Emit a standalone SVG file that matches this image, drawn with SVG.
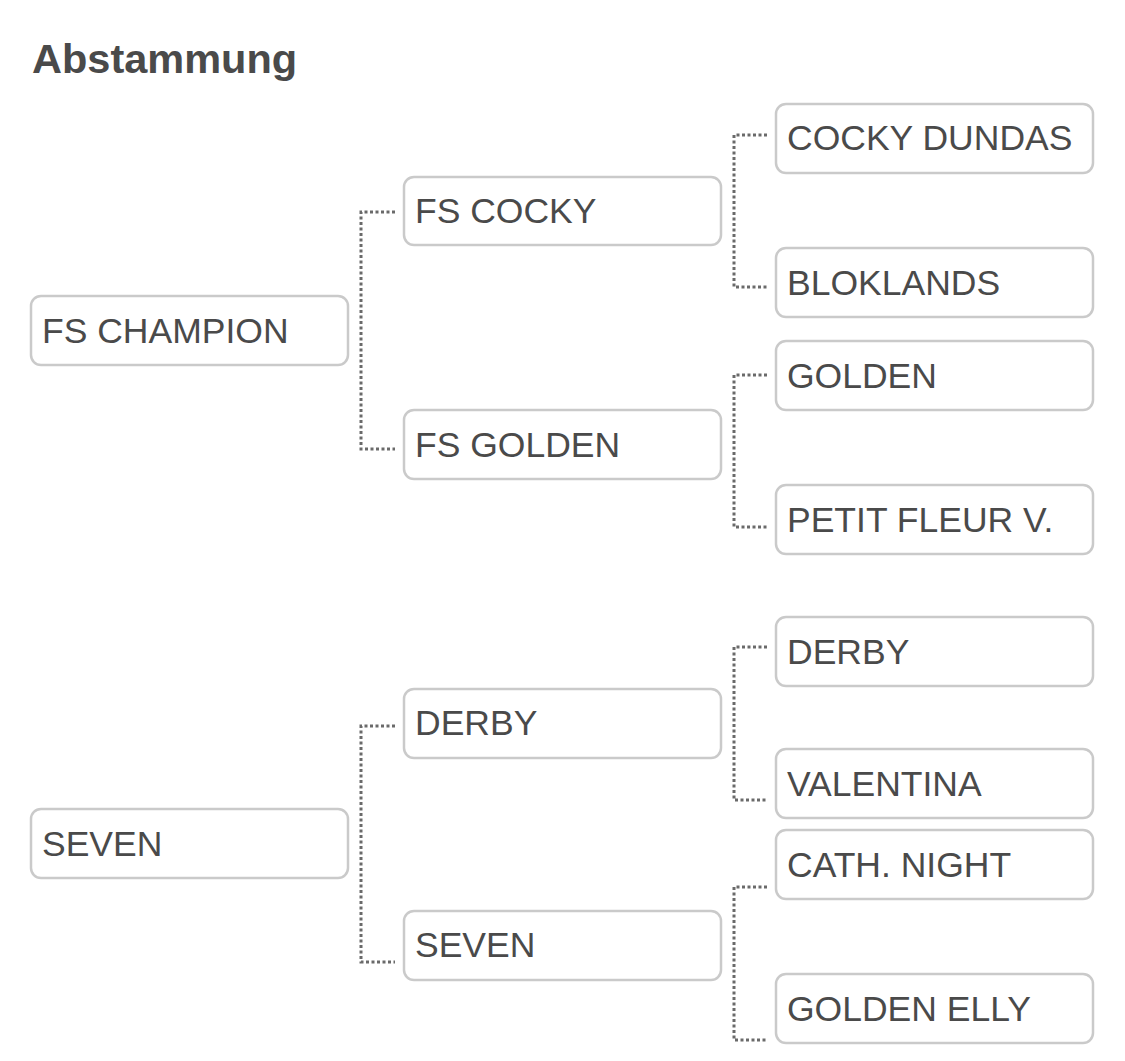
<svg xmlns="http://www.w3.org/2000/svg" width="1125" height="1061" viewBox="0 0 1125 1061">
<style>
.box{fill:#fff;stroke:#cacaca;stroke-width:2.5}
.lbl{font-family:"Liberation Sans",Arial,sans-serif;font-size:35.5px;fill:#4a4a4a}
.title{font-family:"Liberation Sans",Arial,sans-serif;font-size:41.5px;font-weight:bold;fill:#4a4a4a}
.conn{fill:none;stroke:#6a6a6a;stroke-width:3;stroke-dasharray:3 2.5}
</style>
<rect width="1125" height="1061" fill="#fff"/>
<text class="title" x="32" y="73">Abstammung</text>
<g id="connectors">
<path class="conn" d="M395 212 H361 V449 H395"/>
<path class="conn" d="M395 726 H361 V962 H395"/>
<path class="conn" d="M767 135 H734 V287 H767"/>
<path class="conn" d="M767 375 H734 V527 H767"/>
<path class="conn" d="M767 647 H734 V800 H767"/>
<path class="conn" d="M767 887 H734 V1040 H767"/>
</g>
<g id="n-fs-champion"><rect class="box" x="31" y="296" width="317" height="69" rx="10"/><text class="lbl" x="42" y="343">FS CHAMPION</text></g>
<g id="n-seven-1"><rect class="box" x="31" y="809" width="317" height="69" rx="10"/><text class="lbl" x="42" y="856">SEVEN</text></g>
<g id="n-fs-cocky"><rect class="box" x="404" y="177" width="317" height="68" rx="10"/><text class="lbl" x="415" y="223">FS COCKY</text></g>
<g id="n-fs-golden"><rect class="box" x="404" y="410" width="317" height="69" rx="10"/><text class="lbl" x="415" y="457">FS GOLDEN</text></g>
<g id="n-derby-2"><rect class="box" x="404" y="689" width="317" height="69" rx="10"/><text class="lbl" x="415" y="735">DERBY</text></g>
<g id="n-seven-2"><rect class="box" x="404" y="911" width="317" height="69" rx="10"/><text class="lbl" x="415" y="957">SEVEN</text></g>
<g id="n-cocky-dundas"><rect class="box" x="776" y="104" width="317" height="69" rx="10"/><text class="lbl" x="787" y="150">COCKY DUNDAS</text></g>
<g id="n-bloklands"><rect class="box" x="776" y="248" width="317" height="69" rx="10"/><text class="lbl" x="787" y="295">BLOKLANDS</text></g>
<g id="n-golden"><rect class="box" x="776" y="341" width="317" height="69" rx="10"/><text class="lbl" x="787" y="388">GOLDEN</text></g>
<g id="n-petit-fleur"><rect class="box" x="776" y="485" width="317" height="69" rx="10"/><text class="lbl" x="787" y="532">PETIT FLEUR V.</text></g>
<g id="n-derby-3"><rect class="box" x="776" y="617" width="317" height="69" rx="10"/><text class="lbl" x="787" y="664">DERBY</text></g>
<g id="n-valentina"><rect class="box" x="776" y="749" width="317" height="69" rx="10"/><text class="lbl" x="787" y="796">VALENTINA</text></g>
<g id="n-cath-night"><rect class="box" x="776" y="830" width="317" height="69" rx="10"/><text class="lbl" x="787" y="877">CATH. NIGHT</text></g>
<g id="n-golden-elly"><rect class="box" x="776" y="974" width="317" height="69" rx="10"/><text class="lbl" x="787" y="1021">GOLDEN ELLY</text></g>
</svg>
